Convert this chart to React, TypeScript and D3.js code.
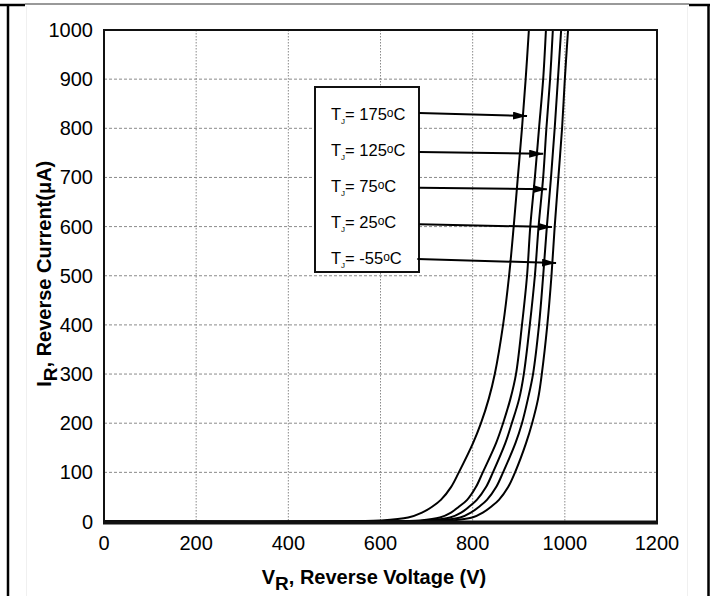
import React, { useEffect, useRef } from 'react';
import * as d3 from 'd3';

// reverse current, µA (shared by all curves)
const currents = [0, 0, 2, 8, 18, 30, 44, 70, 100, 160, 200, 250, 300, 400, 500, 600, 700, 800, 900, 1000];
// reverse voltage, V, one list per junction temperature
const vT175 = [0, 490, 599, 660, 690, 712, 731, 753, 770, 801, 818, 835, 848, 866, 879, 889, 898, 907, 915, 922];
const vT125 = [0, 599, 686, 729, 753, 770, 788, 807, 822, 851, 866, 882, 894, 907, 918, 925, 935, 944, 953, 959];
const vT75 = [0, 621, 707, 751, 775, 792, 809, 829, 844, 871, 885, 901, 911, 924, 935, 943, 953, 960, 968, 974];
const vT25 = [0, 642, 729, 773, 796, 814, 831, 851, 866, 893, 907, 920, 931, 944, 953, 961, 970, 978, 985, 992];
const vTm55 = [0, 668, 755, 799, 822, 840, 857, 877, 892, 916, 929, 942, 950, 962, 971, 978, 986, 994, 1000, 1007];

const temps = ['175', '125', '75', '25', '-55'];
// arrow start / tip in data units
const arrowFrom = [[684, 831], [684, 752], [684, 679], [684, 605], [680, 534]];
const arrowTo = [[918, 825], [953, 748], [961, 676], [972, 599], [981, 526]];

const xTicks = [0, 200, 400, 600, 800, 1000, 1200];
const yTicks = [0, 100, 200, 300, 400, 500, 600, 700, 800, 900, 1000];

const FONT = '"Liberation Sans", Arial, sans-serif';

const App = () => {
  const svgRef = useRef(null);

  useEffect(() => {
    const svg = d3.select(svgRef.current);
    svg.selectAll('*').remove();

    const left = 104, right = 657, top = 30, bottom = 521.5;

    const x = d3.scaleLinear().domain([0, 1200]).range([left, right]);
    const y = d3.scaleLinear().domain([0, 1000]).range([bottom, top]);

    // page frame
    svg.append('line').attr('x1', 25).attr('x2', 689).attr('y1', 4).attr('y2', 4)
      .attr('stroke', '#777').attr('stroke-width', 1.5);
    svg.append('line').attr('x1', 0).attr('x2', 25).attr('y1', 5).attr('y2', 5)
      .attr('stroke', '#000').attr('stroke-width', 2.5);
    svg.append('line').attr('x1', 689).attr('x2', 710).attr('y1', 5).attr('y2', 5)
      .attr('stroke', '#000').attr('stroke-width', 2.5);
    svg.append('line').attr('x1', 8).attr('x2', 8).attr('y1', 4).attr('y2', 596)
      .attr('stroke', '#000').attr('stroke-width', 2.5);
    svg.append('line').attr('x1', 708.5).attr('x2', 708.5).attr('y1', 4).attr('y2', 596)
      .attr('stroke', '#000').attr('stroke-width', 2.5);
    svg.append('line').attr('x1', 26.5).attr('x2', 26.5).attr('y1', 6).attr('y2', 596)
      .attr('stroke', '#f0f0f0').attr('stroke-width', 1);
    svg.append('line').attr('x1', 687.5).attr('x2', 687.5).attr('y1', 6).attr('y2', 596)
      .attr('stroke', '#f0f0f0').attr('stroke-width', 1);

    // grid
    const grid = svg.append('g');
    xTicks.slice(1, -1).forEach(t => {
      grid.append('line')
        .attr('x1', x(t)).attr('x2', x(t)).attr('y1', top).attr('y2', bottom)
        .attr('stroke', '#8a8a8a').attr('stroke-width', 1).attr('stroke-dasharray', '1.5,1.5');
    });
    yTicks.slice(1, -1).forEach(t => {
      grid.append('line')
        .attr('x1', left).attr('x2', right).attr('y1', y(t)).attr('y2', y(t))
        .attr('stroke', '#8a8a8a').attr('stroke-width', 1).attr('stroke-dasharray', '3,2');
    });

    // tick labels
    svg.append('g').selectAll('text').data(yTicks).enter().append('text')
      .attr('x', left - 11).attr('y', d => y(d) + 7)
      .attr('text-anchor', 'end')
      .style('font-family', FONT).style('font-size', '20px')
      .text(d => d);
    svg.append('g').selectAll('text').data(xTicks).enter().append('text')
      .attr('x', d => x(d)).attr('y', 550)
      .attr('text-anchor', 'middle')
      .style('font-family', FONT).style('font-size', '20px')
      .text(d => d);

    // curves
    const line = d3.line<[number, number]>()
      .x(d => x(d[0])).y(d => y(d[1]))
      .curve(d3.curveCatmullRom.alpha(0.5));
    [vT175, vT125, vT75, vT25, vTm55].forEach(vs => {
      svg.append('path')
        .datum(vs.map((v, i) => [v, currents[i]] as [number, number]))
        .attr('d', line)
        .attr('fill', 'none')
        .attr('stroke', '#000')
        .attr('stroke-width', 2);
    });

    // plot frame
    svg.append('rect')
      .attr('x', left).attr('y', top).attr('width', right - left).attr('height', bottom - top)
      .attr('fill', 'none').attr('stroke', '#111').attr('stroke-width', 2);
    svg.append('rect').attr('x', left - 1).attr('y', bottom).attr('width', right - left + 2).attr('height', 3).attr('fill', '#111');

    // legend box
    svg.append('rect')
      .attr('x', 315).attr('y', 87).attr('width', 104).attr('height', 185)
      .attr('fill', '#fff').attr('stroke', '#111').attr('stroke-width', 2);

    const defs = svg.append('defs');
    defs.append('marker')
      .attr('id', 'arr').attr('markerUnits', 'userSpaceOnUse')
      .attr('markerWidth', 14).attr('markerHeight', 8)
      .attr('refX', 14).attr('refY', 4).attr('orient', 'auto')
      .append('path').attr('d', 'M0,0 L14,4 L0,8 Z').attr('fill', '#000');

    temps.forEach((t, i) => {
      const ty = [120, 156, 192, 228, 264][i];
      const txt = svg.append('text')
        .attr('x', 331).attr('y', ty)
        .style('font-family', FONT).style('font-size', '16.5px');
      txt.append('tspan').text('T');
      txt.append('tspan').attr('dy', 4).style('font-size', '8px').text('J');
      txt.append('tspan').attr('dy', -4).text(`= ${t}`);
      txt.append('tspan').attr('dy', -3).style('font-size', '12px').text('o');
      txt.append('tspan').attr('dy', 3).text('C');

      svg.append('line')
        .attr('x1', x(arrowFrom[i][0])).attr('y1', y(arrowFrom[i][1]))
        .attr('x2', x(arrowTo[i][0])).attr('y2', y(arrowTo[i][1]))
        .attr('stroke', '#000').attr('stroke-width', 2)
        .attr('marker-end', 'url(#arr)');
    });

    // axis titles
    const xt = svg.append('text')
      .attr('x', 374).attr('y', 584).attr('text-anchor', 'middle')
      .style('font-family', FONT).style('font-size', '20px').style('font-weight', 'bold');
    xt.append('tspan').text('V');
    xt.append('tspan').attr('dy', 6).style('font-size', '19px').text('R');
    xt.append('tspan').attr('dy', -6).text(', Reverse Voltage (V)');

    const yt = svg.append('text')
      .attr('transform', `translate(51,${(top + bottom) / 2 - 2}) rotate(-90)`)
      .attr('text-anchor', 'middle')
      .style('font-family', FONT).style('font-size', '20px').style('font-weight', 'bold');
    yt.append('tspan').text('I');
    yt.append('tspan').attr('dy', 6).style('font-size', '19px').text('R');
    yt.append('tspan').attr('dy', -6).text(', Reverse Current(μA)');
  }, []);

  return (
    <svg ref={svgRef} width={715} height={596}
      style={{ position: 'absolute', left: 0, top: 0, background: '#fff' }} />
  );
};

export default App;
